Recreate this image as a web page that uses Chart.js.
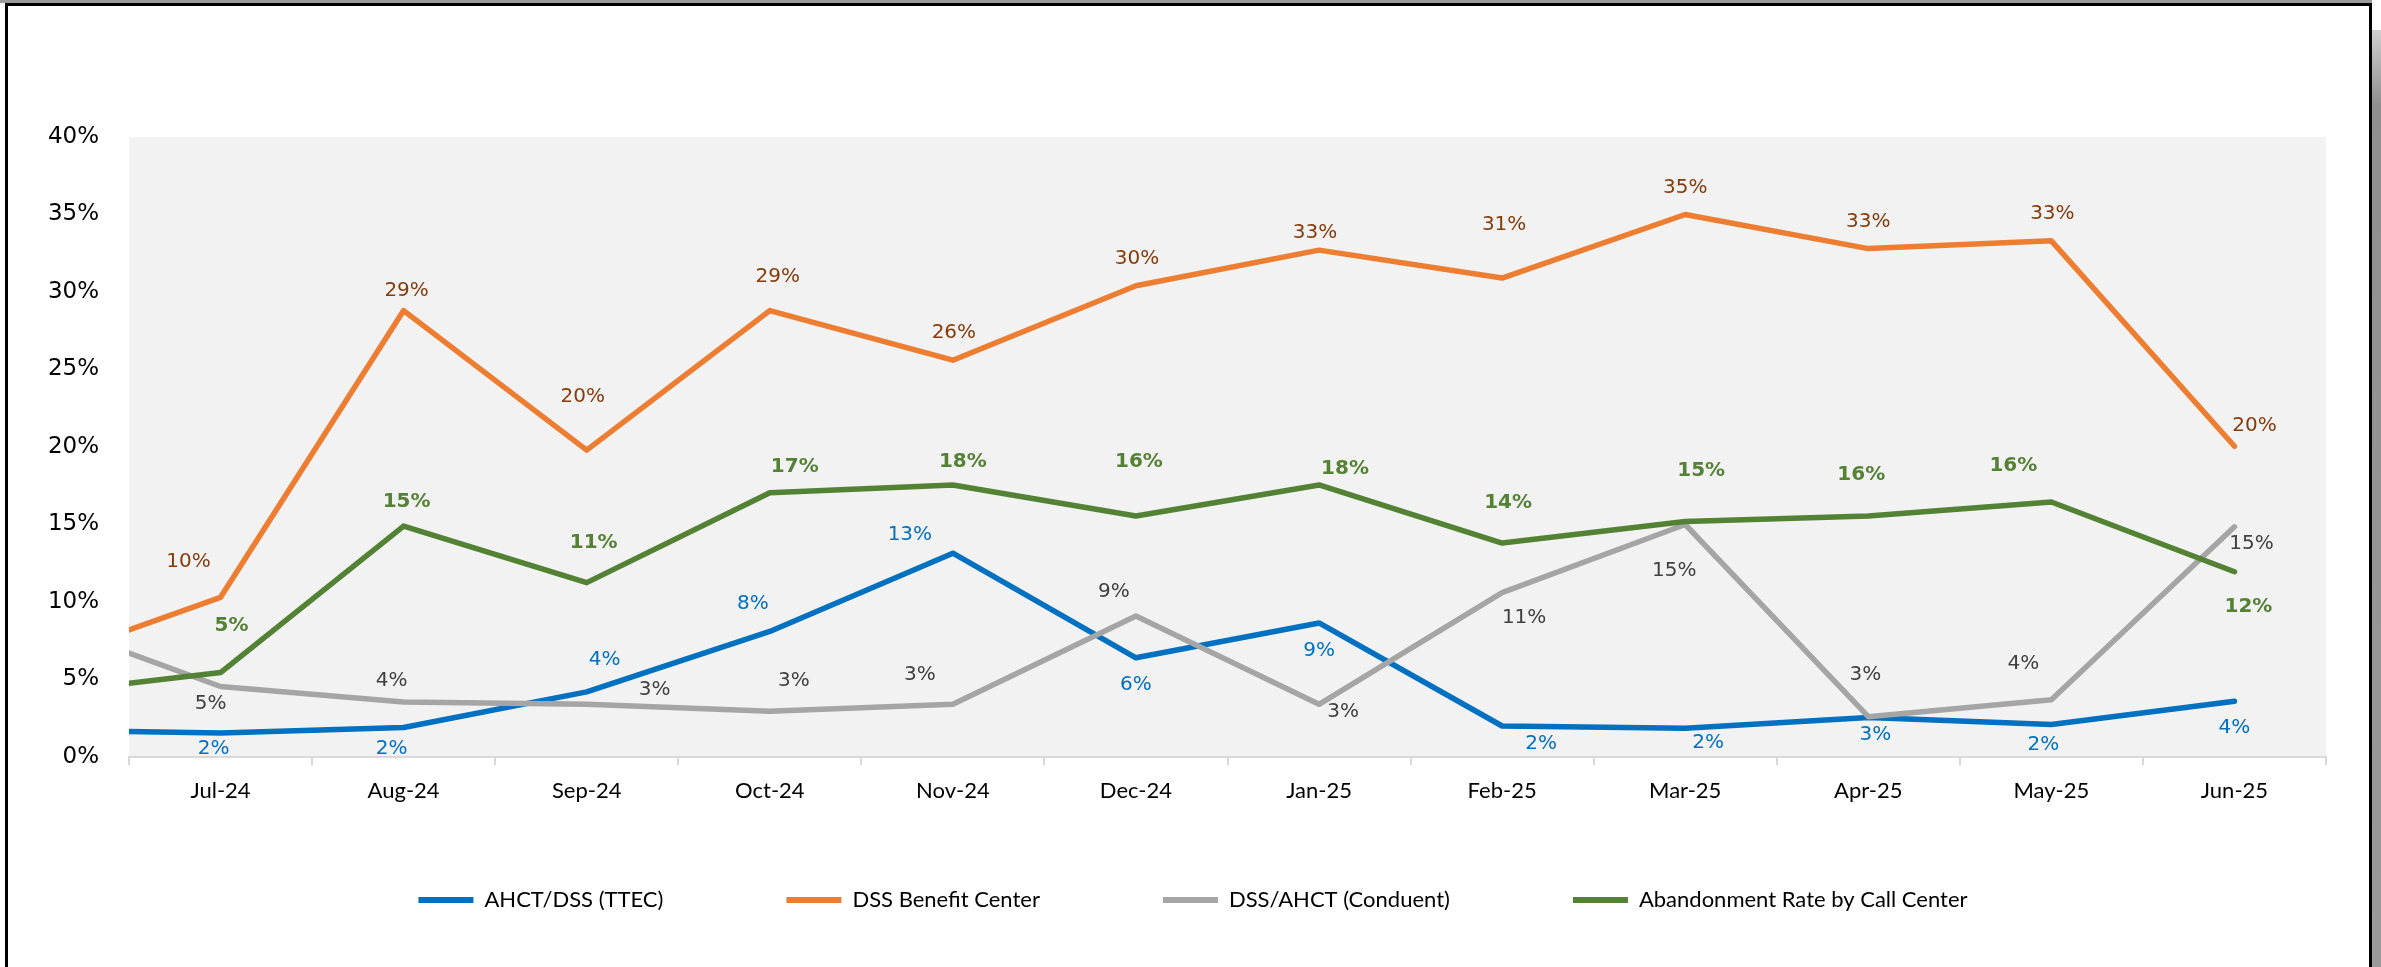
<!DOCTYPE html>
<html>
<head>
<meta charset="utf-8">
<script src="https://cdn.jsdelivr.net/npm/chart.js@4.4.1/dist/chart.umd.min.js"></script>
<style>
  html, body { margin: 0; padding: 0; background: #fff; }
  #wrap { position: relative; width: 2381px; height: 967px; overflow: hidden; }
  #chart { position: absolute; left: 0; top: 0; }
  .shade-top { position: absolute; left: 0; top: 0; width: 2372px; height: 3px; background: #9a9a9a; }
  .frame { position: absolute; left: 5px; top: 3px; width: 2367px; height: 1000px; box-sizing: border-box;
           border: 3px solid #000; border-bottom: none; pointer-events: none; }
  .shade-right { position: absolute; left: 2372px; top: 30px; width: 9px; height: 937px;
                 background: linear-gradient(#d0d0d0, #8f8f8f 8%, #9a9a9a); }
</style>
</head>
<body>
<div id="wrap">
  <canvas id="chart" width="2381" height="967"></canvas>
  <div class="shade-top"></div>
  <div class="frame"></div>
  <div class="shade-right"></div>
</div>
<script>
// months on the axis
const months = ["Jul-24", "Aug-24", "Sep-24", "Oct-24", "Nov-24", "Dec-24",
                "Jan-25", "Feb-25", "Mar-25", "Apr-25", "May-25", "Jun-25"];

// rates in %, the "lead" value is where each line enters at the left edge
const ttecLead = 1.65;
const ttec = [1.55, 1.9, 4.2, 8.1, 13.15, 6.4, 8.65, 2.0, 1.85, 2.55, 2.1, 3.6];

const benefitLead = 8.2;
const benefit = [10.3, 28.8, 19.8, 28.8, 25.6, 30.4, 32.7, 30.9, 35.0, 32.8, 33.3, 20.05];

const conduentLead = 6.7;
const conduent = [4.55, 3.55, 3.4, 2.95, 3.4, 9.1, 3.4, 10.6, 15.0, 2.6, 3.7, 14.85];

const abandonLead = 4.75;
const abandon = [5.45, 14.9, 11.25, 17.05, 17.55, 15.55, 17.55, 13.8, 15.2, 15.55, 16.45, 11.95];

const yTicks = [0, 5, 10, 15, 20, 25, 30, 35, 40];

// label offsets (px) from each point
const ttecLabelPos = [[-7,16],[-12,21],[18,-32],[-17,-28],[-43,-18],[0,27],[0,28],[39,18],[23,14],[7,17],[-8,20],[0,27]];
const benefitLabelPos = [[-32,-36],[3,-20],[-4,-53],[8,-34],[1,-27],[1,-27],[-4,-17],[2,-53],[0,-27],[0,-27],[1,-27],[20,-20]];
const conduentLabelPos = [[-10,17],[-12,-21],[68,-15],[24,-30],[-33,-30],[-22,-24],[24,7],[22,25],[-11,46],[-3,-42],[-28,-36],[17,17]];
const abandonLabelPos = [[11,-47],[3,-24],[7,-40],[25,-26],[10,-23],[3,-54],[26,-16],[6,-40],[16,-51],[-7,-41],[-38,-36],[14,35]];

// legend placement
const legendLeft = 60, legendRight = 2326, legendMidY = 900;

function toPoints(lead, vals) {
  const pts = [{ x: -0.5, y: lead }];
  vals.forEach((v, i) => pts.push({ x: i, y: v }));
  return pts;
}

function series(label, lead, vals, color, labelColor, labelFont, labelPos, order) {
  return {
    label: label,
    data: toPoints(lead, vals),
    monthly: vals,
    xAxisID: 'xv',
    borderColor: color,
    backgroundColor: color,
    borderWidth: 5.5,
    borderJoinStyle: 'round',
    borderCapStyle: 'round',
    pointRadius: 0,
    tension: 0,
    order: order,
    labelColor: labelColor,
    labelFont: labelFont,
    labelPos: labelPos
  };
}

const plotBg = {
  id: 'plotBg',
  beforeDraw(chart) {
    const a = chart.chartArea;
    const ctx = chart.ctx;
    ctx.save();
    ctx.fillStyle = '#fff';
    ctx.fillRect(0, 0, chart.width, chart.height);
    ctx.fillStyle = '#F2F2F2';
    ctx.fillRect(a.left, a.top, a.right - a.left, a.bottom - a.top);
    ctx.restore();
  }
};

// move the legend row and let the month labels draw below the axis box
const placeBoxes = {
  id: 'placeBoxes',
  afterLayout(chart) {
    const lg = chart.legend;
    const pad = lg.options.labels.padding;
    const fs = lg.options.labels.font.size;
    lg.left = legendLeft;
    lg.right = legendRight;
    lg.width = legendRight - legendLeft;
    lg.top = legendMidY - fs / 2 - pad;
    lg.bottom = chart.height;
    lg.height = lg.bottom - lg.top;
    chart.scales.x.bottom = chart.height;
  }
};

const valueLabels = {
  id: 'valueLabels',
  afterDatasetsDraw(chart) {
    const ctx = chart.ctx;
    chart.data.datasets.forEach((ds, di) => {
      const meta = chart.getDatasetMeta(di);
      ctx.save();
      ctx.font = ds.labelFont;
      ctx.fillStyle = ds.labelColor;
      ctx.textAlign = 'center';
      ctx.textBaseline = 'middle';
      ds.monthly.forEach((v, i) => {
        const pt = meta.data[i + 1];
        const off = ds.labelPos[i];
        ctx.fillText(Math.round(v) + '%', pt.x + off[0], pt.y + off[1]);
      });
      ctx.restore();
    });
  }
};

const regular = '20px "DejaVu Sans"';
const bold = 'bold 20px "DejaVu Sans"';

new Chart(document.getElementById('chart'), {
  type: 'line',
  data: {
    labels: months,
    datasets: [
      series('AHCT/DSS (TTEC)', ttecLead, ttec, '#0070C0', '#0070C0', regular, ttecLabelPos, 3),
      series('DSS Benefit Center', benefitLead, benefit, '#ED7D31', '#843C0C', regular, benefitLabelPos, 2),
      series('DSS/AHCT (Conduent)', conduentLead, conduent, '#A5A5A5', '#404040', regular, conduentLabelPos, 1),
      series('Abandonment Rate by Call Center', abandonLead, abandon, '#548235', '#548235', bold, abandonLabelPos, 0)
    ]
  },
  options: {
    responsive: false,
    animation: false,
    devicePixelRatio: 1,
    layout: { padding: { left: 20, right: 55, top: 137, bottom: 100 } },
    plugins: {
      tooltip: { enabled: false },
      legend: {
        position: 'bottom',
        maxHeight: 60,
        labels: {
          font: { family: 'Lato', size: 22 },
          color: '#000',
          boxWidth: 55,
          boxHeight: 6,
          padding: 123,
          sort: (a, b) => a.datasetIndex - b.datasetIndex,
          generateLabels(chart) {
            const items = Chart.defaults.plugins.legend.labels.generateLabels(chart);
            items.forEach(it => { it.lineWidth = 0; it.fillStyle = it.strokeStyle; });
            return items;
          }
        }
      }
    },
    scales: {
      x: {
        type: 'category',
        offset: true,
        grid: { display: true, drawOnChartArea: false, offset: true, tickLength: 8, color: '#D9D9D9', lineWidth: 2 },
        border: { display: true, color: '#D9D9D9', width: 2 },
        ticks: { font: { family: 'Lato', size: 22 }, color: '#000', padding: 13, maxRotation: 0, autoSkip: false },
        afterFit(scale) { scale.height = 50; }
      },
      xv: {
        type: 'linear',
        axis: 'x',
        position: 'bottom',
        display: false,
        min: -0.5,
        max: 11.5
      },
      y: {
        min: yTicks[0],
        max: yTicks[yTicks.length - 1],
        afterBuildTicks(scale) { scale.ticks = yTicks.map(v => ({ value: v })); },
        grid: { display: false },
        border: { display: false },
        ticks: { font: { family: 'DejaVu Sans', size: 23 }, color: '#000', padding: 22, callback: v => v + '%' },
        afterFit(scale) { scale.width = 109; }
      }
    }
  },
  plugins: [plotBg, placeBoxes, valueLabels]
});
</script>
</body>
</html>
